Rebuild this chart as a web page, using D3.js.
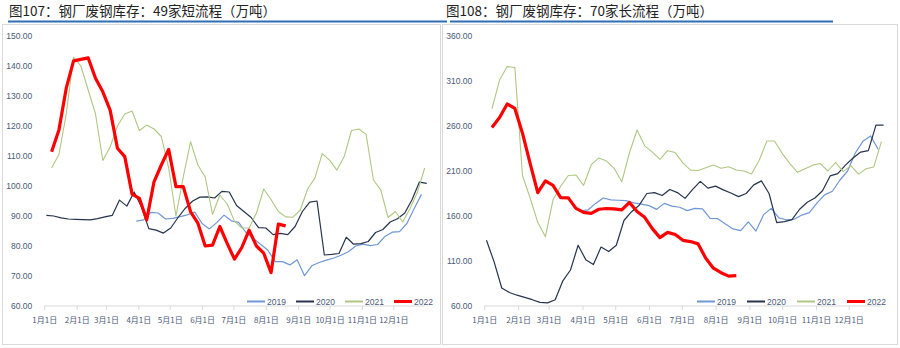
<!DOCTYPE html>
<html><head><meta charset="utf-8">
<script src="https://cdn.jsdelivr.net/npm/d3@7"></script>
<style>body{margin:0;background:#fff;}svg{display:block;}</style>
</head><body>
<svg id="c" width="900" height="348"></svg>
<script>
// ---------- data ----------
const years = ["2019", "2020", "2021", "2022"];
const colors = ["#6F97D6", "#26344D", "#AFC783", "#FF0000"];
const widths = [1.2, 1.2, 1.1, 3.2];
const monthTicks = ["1月1日","2月1日","3月1日","4月1日","5月1日","6月1日","7月1日","8月1日","9月1日","10月1日","11月1日","12月1日"];
const startDates = ["2019-03-30", "2019-01-03", "2019-01-08", "2019-01-08"];

// 图107 短流程 (万吨), weekly
const short2019 = [88.3,88.7,91.2,91,89,89.2,89.8,90.4,91.3,87.5,85.7,87.8,90.3,88.4,87.9,84.5,82.5,80.6,78.6,74.8,74.8,73.7,75.4,70.1,73.4,74.5,75.3,76,76.9,78.1,80,80.6,80.1,80.5,83.2,84.6,84.8,87.5,92.5,97.2];
const short2020 = [90.2,90,89.4,89,88.9,88.8,88.7,89.1,89.7,90.2,95.3,93.3,98,93,85.8,85.3,84.3,86,89.5,92.6,95,96.3,96.4,96,98.2,98,93.5,91.5,89.5,86.1,86,83.8,84.2,83.8,86.5,91.5,94.6,95,77,77.2,77.5,82.9,80.6,80.8,81.5,84.5,85.5,88,89.1,91,95.5,101.3,100.9];
const short2021 = [106,110.5,124,143,140,132,124,108.5,113,120,124,125,118.5,120.3,119,116.5,106,90,103,114.8,107,103,90.5,97,94,88.3,86,86,91,99,95.5,91.5,89.7,89.6,92,99,102.7,110.8,108.6,105.3,109.8,118.5,119,117.2,102,98.7,89.5,91.5,88,92.5,97.8,106];
const short2022 = [111.4,118.7,132.6,141.7,142.2,142.7,135.9,131.4,125.3,112.6,109.8,97.3,95.9,88.7,101.4,107,112.2,99.8,99.8,91.4,87.6,80,80.3,86.5,80.9,75.6,79.5,85.3,80,77.6,71.1,87.3,86.7];

// 图108 长流程 (万吨), weekly
const long2019 = [165.6,166.7,174,180,178,177.5,177,174.5,173.2,171.5,167.4,174,171,169.7,166,168.5,168,157.4,157,151,145.6,143.7,153.5,143.3,161.5,168.5,158,155.8,156.3,161,163.7,174.5,183.5,187.5,200,210,230,243,249,234.1];
const long2020 = [133,109,80,75,72,69.5,67,64,63.5,67,88,100,127.5,111.5,106,125.5,120.5,127.5,155,164.8,172,185,186,182.8,189.5,186,179.6,189.6,198.5,191,193.2,189,185.5,181.5,185,194.6,199,185,152.6,153.7,156,167.5,175.3,180,188,204.5,207,216.5,224.5,231,232.6,261,261];
const long2021 = [279,311,326,325,205,180,153,137,178,193,205,205.6,194,217,224.5,221,213,198,230,255.6,238,231,223,232.6,230.5,219,211,210.5,213.5,216.7,213,214.8,211.1,210,206.7,222,243.3,243.3,229.6,218.5,208.5,212.5,216.5,218.3,210,219.5,209.3,216,206.5,212.5,214.5,242.6];
const long2022 = [258.3,269.5,284.5,279.5,252,218.5,185.9,199,194,180.5,180.2,168.5,164,163,167.5,168.3,168,166.8,175,165,158.5,146,136,141.8,139.5,133,131.6,129,113,102,97,93.2,93.7];

const shortTicks = [60,70,80,90,100,110,120,130,140,150];
const longTicks = [60,110,160,210,260,310,360];

// ---------- drawing ----------
const svg = d3.select("#c");
const parse = d3.timeParse("%Y-%m-%d");
const FONT = "'Noto Sans CJK SC','Noto Sans',sans-serif";

function drawPanel(cfg) {
  const g = svg.append("g");
  g.append("rect").attr("x", cfg.box[0]).attr("y", cfg.box[1]).attr("width", cfg.box[2]).attr("height", cfg.box[3])
    .attr("fill", "#fff").attr("stroke", "#D9D9D9").attr("stroke-width", 1);
  g.append("text").attr("x", cfg.titleX).attr("y", 16).text(cfg.title)
    .attr("font-family", FONT).attr("font-size", 13.5).attr("fill", "#222");
  g.append("line").attr("x1", cfg.rule[0]).attr("x2", cfg.rule[1]).attr("y1", 21.5).attr("y2", 21.5)
    .attr("stroke", "#2F6DB5").attr("stroke-width", 2);

  const x = d3.scaleTime().domain([parse("2019-01-01"), parse("2019-12-01")]).range(cfg.xr);
  const y = d3.scaleLinear().domain([cfg.ticks[0], cfg.ticks[cfg.ticks.length - 1]]).range([306, 36]);

  const tickDates = d3.timeMonths(parse("2019-01-01"), parse("2019-12-02"));
  const xa = g.append("g").attr("transform", "translate(0,306)")
    .call(d3.axisBottom(x).tickValues(tickDates).tickSize(4).tickSizeOuter(0)
      .tickFormat((d, i) => monthTicks[i]));
  xa.select(".domain").attr("stroke", "#D9D9D9")
    .attr("d", `M${cfg.xr[0]},0H${x(parse("2019-12-31"))}`);
  xa.selectAll(".tick line").attr("stroke", "#D9D9D9");
  xa.selectAll(".tick text").attr("font-family", FONT).attr("font-size", 8).attr("fill", "#4A5A78").attr("dy", "1.3em");

  const ya = g.append("g").attr("transform", `translate(${cfg.xr[0] - 9},0)`)
    .call(d3.axisLeft(y).tickValues(cfg.ticks).tickSize(0).tickFormat(d3.format(".2f")));
  ya.select(".domain").remove();
  ya.selectAll(".tick text").attr("font-family", "'Liberation Sans',Arial,sans-serif").attr("font-size", 8.5).attr("fill", "#4A5A78");

  const line = d3.line().x(d => x(d.date)).y(d => y(d.v));
  [0, 1, 2, 3].forEach(k => {
    const start = parse(startDates[k]);
    const pts = cfg.series[k].map((v, i) => ({ date: d3.timeDay.offset(start, 7 * i), v }));
    g.append("path").datum(pts).attr("d", line).attr("fill", "none")
      .attr("stroke", colors[k]).attr("stroke-width", widths[k]).attr("stroke-linejoin", "round");
  });

  const lg = g.append("g").attr("transform", `translate(${cfg.legendX},301.5)`);
  years.forEach((yr, k) => {
    const ox = k * cfg.legendStep;
    lg.append("line").attr("x1", ox).attr("x2", ox + 18).attr("y1", 0).attr("y2", 0)
      .attr("stroke", colors[k]).attr("stroke-width", k === 3 ? 3 : 2);
    lg.append("text").attr("x", ox + 20).attr("y", 3).text(yr)
      .attr("font-family", "'Liberation Sans',Arial,sans-serif").attr("font-size", 8.5).attr("fill", "#4A5A78");
  });
}

drawPanel({
  box: [2.5, 24.5, 438, 320], title: "图107：钢厂废钢库存：49家短流程（万吨）", titleX: 9, rule: [8, 447],
  xr: [44.3, 393.3], ticks: shortTicks,
  series: [short2019, short2020, short2021, short2022], legendX: 247, legendStep: 49
});
drawPanel({
  box: [442.5, 24.5, 455, 320], title: "图108：钢厂废钢库存：70家长流程（万吨）", titleX: 446, rule: [450, 833],
  xr: [484.3, 848.7], ticks: longTicks,
  series: [long2019, long2020, long2021, long2022], legendX: 697, legendStep: 50
});
</script>
</body></html>
